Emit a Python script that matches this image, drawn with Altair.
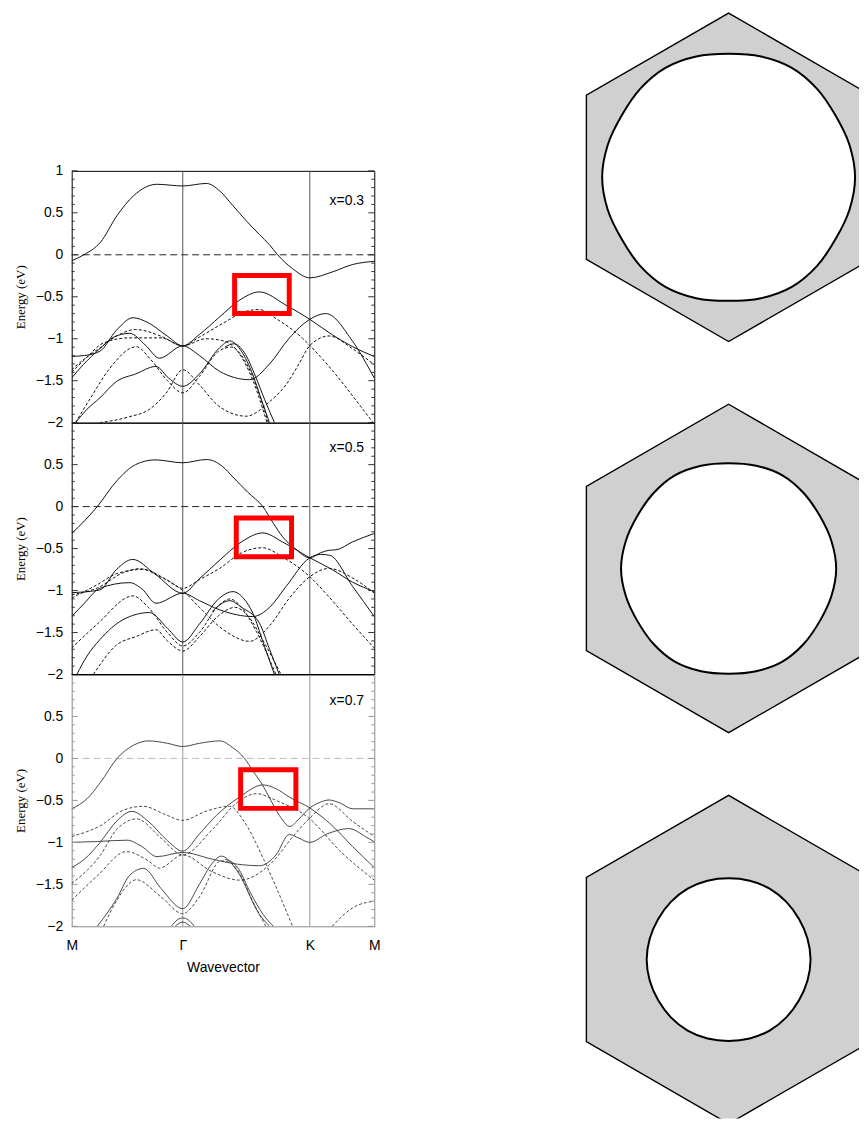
import math
import altair as alt
import pandas as pd

# ---------------- axis values ----------------
K_RANGE = [0.0, 2.37]
E_RANGE = [-2.0, 1.0]
X_TICK_VALUES = [0.0, 0.87, 1.865, 2.37]
X_TICK_LABELS = ["M", "Γ", "K", "M"]
SYMMETRY_POINTS = [0.87, 1.865]
Y_LABELS_TOP = [1.0, 0.5, 0.0, -0.5, -1.0, -1.5, -2.0]
Y_LABELS = [0.5, 0.0, -0.5, -1.0, -1.5, -2.0]
Y_TICK_MAJOR = [1.0, 0.5, 0.0, -0.5, -1.0, -1.5, -2.0]
Y_TICK_MINOR = [0.9, 0.8, 0.7, 0.6, 0.4, 0.3, 0.2, 0.1, -0.1, -0.2, -0.3, -0.4,
                -0.6, -0.7, -0.8, -0.9, -1.1, -1.2, -1.3, -1.4, -1.6, -1.7, -1.8, -1.9]

# ---------------- panel x=0.3 ----------------
P1_A = [(0, -0.07), (0.096, 0), (0.226, 0.151), (0.355, 0.467), (0.485, 0.704), (0.667, 0.84),
        (0.87, 0.82), (1.056, 0.85), (1.16, 0.76), (1.263, 0.585), (1.37, 0.40), (1.471, 0.24),
        (1.549, 0.12), (1.613, 0.0), (1.73, -0.165), (1.865, -0.275), (2.042, -0.204),
        (2.197, -0.117), (2.37, -0.078)]
P1_B = [(0, -1.21), (0.1, -1.2), (0.22, -1.15), (0.35, -0.90), (0.48, -0.75), (0.6, -0.81),
        (0.75, -0.97), (0.87, -1.085), (1.0, -0.95), (1.16, -0.738), (1.315, -0.54),
        (1.471, -0.442), (1.678, -0.60), (1.865, -0.769), (2.042, -0.954), (2.197, -1.092),
        (2.37, -1.212)]
P1_D = [(0, -1.467), (0.09, -1.31), (0.22, -1.12), (0.33, -0.98), (0.454, -0.936), (0.58, -1.08),
        (0.687, -1.232), (0.87, -1.085), (1.0, -1.2), (1.16, -1.39), (1.393, -1.488), (1.55, -1.3),
        (1.7, -1.0), (1.865, -0.769), (1.99, -0.70), (2.2, -1.03), (2.37, -1.47)]
P1_E = [(0.03, -2.0), (0.12, -1.84), (0.22, -1.706), (0.35, -1.51), (0.5, -1.42), (0.66, -1.33),
        (0.76, -1.47), (0.87, -1.567), (1.0, -1.42), (1.16, -1.105), (1.237, -1.026), (1.33, -1.15),
        (1.419, -1.43), (1.48, -1.7), (1.549, -2.0)]
P1_E2 = [(1.2, -1.1), (1.27, -1.06), (1.35, -1.16), (1.44, -1.45), (1.51, -1.72), (1.588, -2.0)]
P1_DF = [(0, -1.37), (0.1, -1.24), (0.22, -1.11), (0.35, -0.97), (0.5, -0.89), (0.7, -0.97),
         (0.87, -1.085), (1.0, -0.98), (1.206, -0.797), (1.35, -0.68), (1.47, -0.652), (1.6, -0.76),
         (1.808, -0.995), (1.865, -1.08), (2.07, -1.43), (2.2, -1.68), (2.37, -2.02)]
P1_DI = [(0, -1.40), (0.1, -1.25), (0.25, -1.05), (0.45, -0.99), (0.7, -0.99), (0.87, -1.085),
         (1.05, -1.0), (1.2, -1.03), (1.3, -1.15), (1.42, -1.5), (1.53, -2.0)]
P1_DJ = [(0.03, -2.0), (0.15, -1.7), (0.3, -1.35), (0.506, -1.095), (0.62, -1.25), (0.75, -1.5),
         (0.87, -1.645), (1.0, -1.45), (1.15, -1.15), (1.25, -1.1), (1.33, -1.2), (1.43, -1.5),
         (1.54, -2.0)]
P1_DG = [(0.22, -2.0), (0.45, -1.93), (0.61, -1.84), (0.74, -1.647), (0.87, -1.37), (1.0, -1.55),
         (1.15, -1.8), (1.367, -1.923), (1.55, -1.75), (1.678, -1.55), (1.78, -1.3), (1.865, -1.082),
         (2.016, -0.967), (2.2, -1.12), (2.37, -1.31)]

# ---------------- panel x=0.5 ----------------
P2_A = [(0, -0.32), (0.1, -0.17), (0.2, 0.0), (0.355, 0.31), (0.5, 0.50), (0.654, 0.557),
        (0.87, 0.522), (1.056, 0.561), (1.18, 0.48), (1.263, 0.352), (1.38, 0.17), (1.497, 0.0),
        (1.58, -0.2), (1.652, -0.36), (1.75, -0.5), (1.865, -0.61), (1.95, -0.55), (2.016, -0.52),
        (2.07, -0.515), (2.2, -0.42), (2.37, -0.32)]
P2_B = [(0, -1.025), (0.22, -0.993), (0.35, -0.75), (0.478, -0.629), (0.65, -0.80), (0.87, -1.032),
        (1.0, -0.86), (1.16, -0.637), (1.33, -0.42), (1.497, -0.313), (1.65, -0.42), (1.865, -0.61),
        (2.04, -0.75), (2.2, -0.90), (2.37, -1.013)]
P2_D = [(0, -1.31), (0.1, -1.15), (0.22, -0.973), (0.454, -0.906), (0.55, -0.98), (0.661, -1.151),
        (0.87, -1.032), (1.0, -1.12), (1.16, -1.23), (1.419, -1.31), (1.55, -1.2), (1.678, -0.954),
        (1.865, -0.61), (1.95, -0.57), (2.02, -0.58), (2.2, -0.95), (2.37, -1.31)]
P2_E = [(0.04, -2.0), (0.12, -1.78), (0.22, -1.586), (0.4, -1.349), (0.61, -1.262), (0.75, -1.45),
        (0.87, -1.613), (1.0, -1.40), (1.15, -1.10), (1.263, -1.013), (1.35, -1.10), (1.419, -1.27),
        (1.5, -1.62), (1.588, -2.0)]
P2_E2 = [(1.1, -1.25), (1.16, -1.17), (1.237, -1.12), (1.33, -1.2), (1.471, -1.39), (1.55, -1.7),
         (1.626, -2.0)]
P2_DH = [(0, -1.09), (0.2, -0.93), (0.35, -0.80), (0.563, -0.747), (0.72, -0.85), (0.87, -0.973),
         (1.0, -0.87), (1.16, -0.735), (1.33, -0.55), (1.497, -0.49), (1.65, -0.60), (1.865, -0.835),
         (2.0, -1.05), (2.2, -1.40), (2.37, -1.685)]
P2_DI = [(0, -1.05), (0.2, -0.97), (0.4, -0.79), (0.53, -0.74), (0.7, -0.84), (0.87, -1.0),
         (1.0, -1.2), (1.2, -1.48), (1.393, -1.605), (1.55, -1.42), (1.7, -1.1), (1.865, -0.835),
         (2.016, -0.736), (2.2, -0.85), (2.37, -1.03)]
P2_DJ = [(0, -1.685), (0.2, -1.40), (0.48, -1.064), (0.6, -1.2), (0.75, -1.5), (0.87, -1.66),
         (1.0, -1.5), (1.15, -1.18), (1.24, -1.10), (1.33, -1.2), (1.45, -1.5), (1.6, -2.0)]
P2_DK = [(0.17, -2.0), (0.35, -1.65), (0.5, -1.55), (0.661, -1.467), (0.75, -1.6), (0.87, -1.72),
         (1.0, -1.55), (1.15, -1.3), (1.28, -1.2), (1.38, -1.3), (1.5, -1.6), (1.64, -2.0)]

# ---------------- panel x=0.7 ----------------
P3_A = [(0, -0.6), (0.12, -0.48), (0.226, -0.284), (0.355, 0.0), (0.485, 0.158), (0.602, 0.209),
        (0.75, 0.18), (0.87, 0.142), (1.0, 0.18), (1.16, 0.209), (1.26, 0.13), (1.354, 0.0),
        (1.42, -0.15), (1.497, -0.323), (1.56, -0.5), (1.626, -0.678), (1.71, -0.81), (1.78, -0.72),
        (1.865, -0.59), (1.95, -0.52), (2.016, -0.495), (2.1, -0.53), (2.2, -0.6), (2.37, -0.6)]
P3_B = [(0, -1.3), (0.1, -1.2), (0.226, -0.994), (0.35, -0.75), (0.472, -0.631), (0.6, -0.75),
        (0.75, -0.98), (0.87, -1.105), (1.0, -0.9), (1.134, -0.678), (1.315, -0.46), (1.497, -0.316),
        (1.6, -0.36), (1.704, -0.46), (1.865, -0.59), (2.04, -0.8), (2.2, -1.05), (2.37, -1.3)]
P3_D = [(0, -1.0), (0.2, -0.99), (0.433, -0.974), (0.55, -1.05), (0.667, -1.17), (0.87, -1.12),
        (1.1, -1.2), (1.3, -1.26), (1.471, -1.278), (1.6, -1.15), (1.704, -0.906), (1.78, -0.95),
        (1.865, -1.0), (2.0, -0.9), (2.171, -0.836), (2.3, -0.93), (2.37, -0.994)]
P3_E = [(0.2, -2.0), (0.355, -1.665), (0.45, -1.4), (0.563, -1.31), (0.7, -1.55), (0.87, -1.79),
        (1.0, -1.5), (1.1, -1.25), (1.173, -1.164), (1.3, -1.35), (1.471, -1.86), (1.55, -2.0)]
P3_E2 = [(1.2, -1.2), (1.3, -1.3), (1.4, -1.6), (1.5, -1.86), (1.58, -2.0)]
P3_G1 = [(0.78, -2.0), (0.83, -1.92), (0.87, -1.9), (0.91, -1.92), (0.96, -2.0)]
P3_G2 = [(0.81, -2.0), (0.87, -1.95), (0.93, -2.0)]
P3_DA = [(0, -0.93), (0.226, -0.8), (0.4, -0.62), (0.563, -0.57), (0.72, -0.66), (0.87, -0.738),
         (1.05, -0.63), (1.237, -0.57), (1.35, -0.75), (1.5, -1.19), (1.62, -1.6), (1.73, -2.0)]
P3_DB = [(0, -1.49), (0.226, -1.15), (0.35, -0.85), (0.51, -0.72), (0.7, -0.95), (0.87, -1.15),
         (1.1, -0.85), (1.3, -0.52), (1.445, -0.42), (1.6, -0.5), (1.865, -0.72), (2.1, -1.1),
         (2.37, -1.45)]
P3_DC = [(0, -1.69), (0.2, -1.4), (0.428, -1.11), (0.6, -1.22), (0.687, -1.307), (0.87, -1.15),
         (1.1, -1.35), (1.315, -1.45), (1.549, -1.268), (1.75, -0.9), (1.865, -0.71), (2.016, -0.54),
         (2.2, -0.75), (2.37, -0.93)]
P3_DF = [(0.25, -2.0), (0.35, -1.7), (0.506, -1.445), (0.7, -1.65), (0.87, -1.85), (1.0, -1.65),
         (1.17, -1.22), (1.25, -1.25), (1.45, -1.8), (1.52, -2.0)]
P3_DG = [(2.04, -2.0), (2.2, -1.78), (2.37, -1.7)]

PANEL_LABELS = ["x=0.3", "x=0.5", "x=0.7"]
PANEL_LABEL_POS = [(2.29, 0.645), (2.29, 0.695), (2.29, 0.68)]
# highlighted windows: k0, k1, E0, E1
RECT_1 = [1.276, 1.704, -0.247, -0.700]
RECT_2 = [1.289, 1.722, -0.135, -0.598]
RECT_3 = [1.323, 1.756, -0.135, -0.595]

# ---------------- Brillouin zone / Fermi surfaces ----------------
HEX_VERTEX_ANGLES = [30, 90, 150, 210, 270, 330]
FS_ANGLES = [0, 15, 30, 45, 60, 75, 90, 105, 120, 135, 150, 165,
             180, 195, 210, 225, 240, 255, 270, 285, 300, 315, 330, 345]
FS_RADII_1 = [0.770, 0.762, 0.752, 0.762, 0.770, 0.762, 0.752, 0.762, 0.770, 0.762, 0.752, 0.762,
              0.770, 0.762, 0.752, 0.762, 0.770, 0.762, 0.752, 0.762, 0.770, 0.762, 0.752, 0.762]
FS_RADII_2 = [0.655, 0.648, 0.641, 0.648, 0.655, 0.648, 0.641, 0.648, 0.655, 0.648, 0.641, 0.648,
              0.655, 0.648, 0.641, 0.648, 0.655, 0.648, 0.641, 0.648, 0.655, 0.648, 0.641, 0.648]
FS_RADII_3 = [0.499, 0.497, 0.495, 0.497, 0.499, 0.497, 0.495, 0.497, 0.499, 0.497, 0.495, 0.497,
              0.499, 0.497, 0.495, 0.497, 0.499, 0.497, 0.495, 0.497, 0.499, 0.497, 0.495, 0.497]
HEX_VIEW_X = [-0.903, 0.794]
HEX_VIEW_Y = [[-1.009, 1.009], [-1.009, 1.009], [-0.967, 1.009]]
HEX_PX_PER_UNIT = 165

PLOT_W, PLOT_H = 304, 253


def label_expr():
    expr = "'%s'" % X_TICK_LABELS[-1]
    for i in range(len(X_TICK_VALUES) - 2, -1, -1):
        mid = (X_TICK_VALUES[i] + X_TICK_VALUES[i + 1]) / 2
        expr = "datum.value < %g ? '%s' : (%s)" % (mid, X_TICK_LABELS[i], expr)
    return expr


def band_panel(solid, dashed, label, label_pos, rect, y_labels, line_color, guide_color,
               frame_color, zero_color, tick_color, show_x, line_w):
    xs = alt.Scale(domain=K_RANGE, nice=False, zero=False)
    ys = alt.Scale(domain=E_RANGE, nice=False, zero=False)
    if show_x:
        x_axis = alt.Axis(values=X_TICK_VALUES, labelExpr=label_expr(), title="Wavevector",
                          ticks=False, domain=False, grid=False, labelFont="Liberation Sans",
                          labelFontSize=14, labelColor="black", labelPadding=12, labelFlush=False,
                          labelOverlap=False, titleFont="Liberation Sans", titleFontSize=14,
                          titleFontWeight="normal", titleColor="black", titlePadding=8)
    else:
        x_axis = None
    y_axis = alt.Axis(values=y_labels, format="~g", title="Energy (eV)", ticks=False, domain=False,
                      grid=False, labelFont="Liberation Sans", labelFontSize=14, labelColor="black",
                      labelPadding=9, labelOverlap=False, labelFlush=False,
                      titleFont="Liberation Serif", titleFontSize=13,
                      titleFontWeight="normal", titleColor="black", titlePadding=8)

    def X(f="k"):
        return alt.X(f + ":Q", scale=xs, axis=x_axis)

    def Y(f="E"):
        return alt.Y(f + ":Q", scale=ys, axis=y_axis)

    s_rows = [{"band": i, "k": k, "E": e} for i, pts in enumerate(solid) for k, e in pts]
    d_rows = [{"band": i, "k": k, "E": e} for i, pts in enumerate(dashed) for k, e in pts]

    sym = alt.Chart(pd.DataFrame({"k": SYMMETRY_POINTS})).mark_rule(
        color=guide_color, strokeWidth=1).encode(x=X())
    zero = alt.Chart(pd.DataFrame({"E": [0.0]})).mark_rule(
        color=zero_color, strokeWidth=1, strokeDash=[7, 4]).encode(y=Y())
    dash_lines = alt.Chart(pd.DataFrame(d_rows)).mark_line(
        interpolate="monotone", clip=True, color=line_color, strokeWidth=line_w,
        strokeDash=[3, 2]).encode(x=X(), y=Y(), detail="band:N")
    solid_lines = alt.Chart(pd.DataFrame(s_rows)).mark_line(
        interpolate="monotone", clip=True, color=line_color, strokeWidth=line_w
    ).encode(x=X(), y=Y(), detail="band:N")
    minor = pd.DataFrame({"E": Y_TICK_MINOR})
    major = pd.DataFrame({"E": Y_TICK_MAJOR})
    ticks = [
        alt.Chart(minor).mark_rule(color=tick_color, strokeWidth=1).encode(
            y=Y(), x=alt.value(0), x2=alt.value(3)),
        alt.Chart(minor).mark_rule(color=tick_color, strokeWidth=1).encode(
            y=Y(), x=alt.value(PLOT_W), x2=alt.value(PLOT_W - 3)),
        alt.Chart(major).mark_rule(color=tick_color, strokeWidth=1).encode(
            y=Y(), x=alt.value(0), x2=alt.value(6)),
        alt.Chart(major).mark_rule(color=tick_color, strokeWidth=1).encode(
            y=Y(), x=alt.value(PLOT_W), x2=alt.value(PLOT_W - 6)),
    ]
    box = alt.Chart(pd.DataFrame({"k": [rect[0]], "k2": [rect[1]], "E": [rect[2]], "E2": [rect[3]]})
                    ).mark_rect(fillOpacity=0, stroke="#ff0000", strokeWidth=5).encode(
        x=X(), x2="k2:Q", y=Y(), y2="E2:Q")
    txt = alt.Chart(pd.DataFrame({"k": [label_pos[0]], "E": [label_pos[1]], "t": [label]})
                    ).mark_text(align="right", baseline="middle", font="Liberation Sans",
                                fontSize=14, color="black").encode(x=X(), y=Y(), text="t:N")
    layers = [sym, zero, dash_lines, solid_lines] + ticks + [box, txt]
    if frame_color != "black":
        top = alt.Chart(pd.DataFrame({"E": [1.0]})).mark_rule(color="black", strokeWidth=1).encode(y=Y())
        layers.append(top)
    return alt.layer(*layers).properties(
        width=PLOT_W, height=PLOT_H,
        view=alt.ViewBackground(stroke=frame_color, strokeWidth=1))


def hex_panel(radii, ydom):
    hex_df = pd.DataFrame({
        "i": list(range(len(HEX_VERTEX_ANGLES))),
        "x": [math.cos(math.radians(a)) for a in HEX_VERTEX_ANGLES],
        "y": [math.sin(math.radians(a)) for a in HEX_VERTEX_ANGLES],
    })
    fs_df = pd.DataFrame({
        "i": list(range(len(FS_ANGLES))),
        "x": [r * math.cos(math.radians(a)) for a, r in zip(FS_ANGLES, radii)],
        "y": [r * math.sin(math.radians(a)) for a, r in zip(FS_ANGLES, radii)],
    })
    xs = alt.Scale(domain=HEX_VIEW_X, nice=False, zero=False)
    ys = alt.Scale(domain=ydom, nice=False, zero=False)
    enc = dict(x=alt.X("x:Q", scale=xs, axis=None), y=alt.Y("y:Q", scale=ys, axis=None),
               order=alt.Order("i:Q"))
    hexagon = alt.Chart(hex_df).mark_line(
        interpolate="linear-closed", fill="#d0d0d0", stroke="black", strokeWidth=1.4,
        clip=True).encode(**enc)
    fs = alt.Chart(fs_df).mark_line(
        interpolate="cardinal-closed", fill="white", stroke="black", strokeWidth=2,
        clip=True).encode(**enc)
    w = round((HEX_VIEW_X[1] - HEX_VIEW_X[0]) * HEX_PX_PER_UNIT)
    h = round((ydom[1] - ydom[0]) * HEX_PX_PER_UNIT)
    return alt.layer(hexagon, fs).properties(
        width=w, height=h, view=alt.ViewBackground(stroke="transparent"))


spacer = alt.Chart(pd.DataFrame({"s": [0.0]})).mark_point(opacity=0, size=1).encode(
    x=alt.value(20), y=alt.value(20)
).properties(width=PLOT_W, height=160, view=alt.ViewBackground(stroke="transparent"))

p1 = band_panel([P1_A, P1_B, P1_D, P1_E, P1_E2], [P1_DF, P1_DI, P1_DJ, P1_DG],
                PANEL_LABELS[0], PANEL_LABEL_POS[0], RECT_1, Y_LABELS_TOP,
                "#111111", "#555555", "black", "#222222", "#333333", False, 1.0)
p2 = band_panel([P2_A, P2_B, P2_D, P2_E, P2_E2], [P2_DH, P2_DI, P2_DJ, P2_DK],
                PANEL_LABELS[1], PANEL_LABEL_POS[1], RECT_2, Y_LABELS,
                "#111111", "#555555", "black", "#222222", "#333333", False, 1.0)
p3 = band_panel([P3_A, P3_B, P3_D, P3_E, P3_E2, P3_G1, P3_G2], [P3_DA, P3_DB, P3_DC, P3_DF, P3_DG],
                PANEL_LABELS[2], PANEL_LABEL_POS[2], RECT_3, Y_LABELS,
                "#333333", "#999999", "#8a8a8a", "#bbbbbb", "#999999", True, 0.9)

left = alt.vconcat(spacer, p1, p2, p3, spacing=0, bounds="flush")
right = alt.vconcat(hex_panel(FS_RADII_1, HEX_VIEW_Y[0]),
                    hex_panel(FS_RADII_2, HEX_VIEW_Y[1]),
                    hex_panel(FS_RADII_3, HEX_VIEW_Y[2]), spacing=58)

chart = alt.hconcat(left, right, spacing=199).properties(
    padding={"left": 5, "top": 0, "right": 0, "bottom": 0}
).configure_view(stroke="transparent").configure(font="Liberation Sans", background="white")

chart.save("out.html", embed_options={"renderer": "svg", "actions": False})
